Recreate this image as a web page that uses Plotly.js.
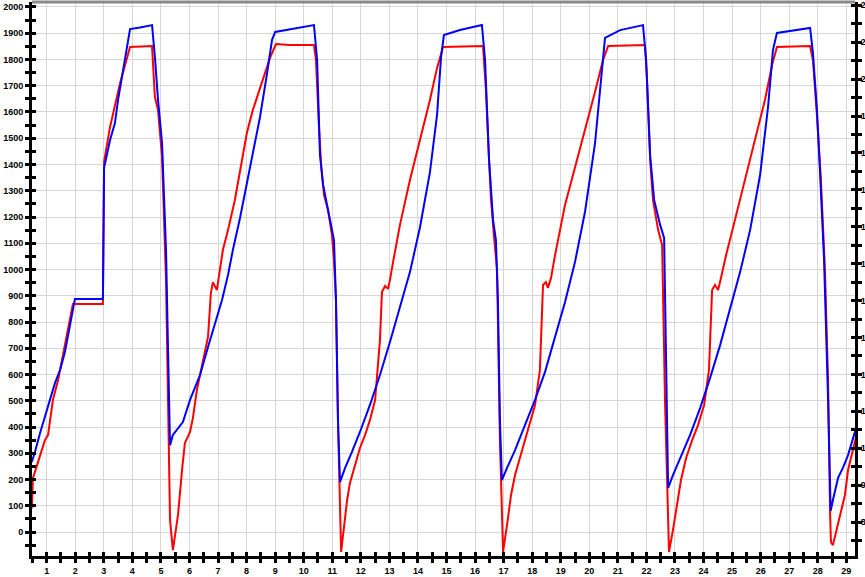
<!DOCTYPE html>
<html>
<head>
<meta charset="utf-8">
<script src="https://cdn.plot.ly/plotly-3.0.1.min.js"></script>
<style>html,body{margin:0;padding:0;background:#fff;}#chart{width:865px;height:577px;}</style>
</head>
<body>
<div id="chart"></div>
<script>
// ---- data ----
const blueX = [0.48,0.59,0.77,0.87,1.12,1.29,1.47,1.64,1.82,1.99,2.97,3.01,3.22,3.39,3.50,3.67,3.92,4.27,4.69,4.79,4.90,5.04,5.18,5.25,5.32,5.42,5.77,6.02,6.37,6.65,6.89,7.14,7.35,7.52,7.77,7.98,8.19,8.47,8.72,8.89,9.00,9.52,10.36,10.47,10.57,10.68,10.82,10.96,11.06,11.13,11.20,11.27,11.45,11.69,11.97,12.32,12.67,13.02,13.37,13.72,14.07,14.42,14.67,14.81,14.91,15.47,16.24,16.35,16.49,16.63,16.73,16.80,16.87,16.94,17.12,17.40,17.75,18.10,18.45,18.80,19.15,19.50,19.85,20.20,20.41,20.55,21.08,21.88,21.99,22.13,22.27,22.48,22.62,22.69,22.76,22.93,23.18,23.53,23.88,24.23,24.58,24.93,25.28,25.63,25.98,26.26,26.43,26.57,27.20,27.73,27.83,27.97,28.08,28.22,28.36,28.45,28.53,28.71,28.88,29.06,29.34];
const blueY = [267,305,377,415,510,567,617,686,789,888,888,1387,1493,1558,1646,1752,1916,1922,1931,1810,1646,1482,1074,693,331,370,419,503,598,705,789,884,979,1074,1196,1310,1417,1581,1749,1874,1905,1916,1931,1798,1436,1322,1246,1170,1112,884,427,190,244,305,381,484,598,724,853,990,1160,1370,1590,1810,1893,1912,1931,1798,1417,1189,1112,884,427,198,244,312,408,503,610,739,876,1029,1220,1480,1740,1882,1912,1931,1798,1436,1265,1170,1120,693,168,217,282,370,472,587,712,846,990,1150,1360,1620,1836,1901,1912,1920,1825,1608,1368,1036,503,80,122,206,244,293,396];

const redX = [0.48,0.52,0.70,0.94,1.05,1.22,1.40,1.54,1.68,1.82,1.92,2.97,3.01,3.22,3.39,3.57,3.92,4.69,4.79,4.90,5.04,5.18,5.25,5.32,5.42,5.60,5.74,5.84,6.02,6.12,6.26,6.44,6.65,6.75,6.82,6.96,7.00,7.07,7.17,7.35,7.59,7.84,8.01,8.22,8.54,8.82,9.03,9.52,10.36,10.43,10.54,10.61,10.71,10.85,10.99,11.06,11.13,11.20,11.31,11.41,11.52,11.62,11.80,11.97,12.15,12.32,12.50,12.67,12.74,12.85,12.95,13.02,13.13,13.37,13.72,14.07,14.42,14.67,14.88,16.28,16.38,16.49,16.56,16.66,16.77,16.87,16.98,17.12,17.26,17.40,17.57,17.75,17.92,18.10,18.27,18.38,18.48,18.55,18.66,18.80,19.15,19.50,19.85,20.20,20.48,20.66,21.95,22.02,22.13,22.23,22.41,22.55,22.65,22.79,22.93,23.07,23.21,23.39,23.60,23.81,24.02,24.19,24.30,24.40,24.51,24.61,24.79,25.10,25.45,25.80,26.15,26.40,26.57,27.73,27.83,27.97,28.11,28.25,28.36,28.43,28.46,28.53,28.78,28.95,29.06,29.34];
const redY = [91,205,267,350,370,503,579,655,731,808,869,869,1410,1543,1619,1710,1848,1851,1657,1608,1429,960,503,46,-69,65,236,339,381,434,541,629,743,910,952,922,949,1010,1074,1150,1265,1417,1520,1608,1710,1806,1859,1855,1855,1798,1531,1398,1284,1227,1131,1036,884,427,-76,27,122,187,255,320,370,427,503,731,914,937,926,960,1029,1170,1341,1493,1646,1768,1848,1851,1684,1417,1265,1131,998,350,-76,27,141,217,282,350,408,484,617,941,952,930,968,1055,1246,1387,1531,1676,1798,1851,1855,1722,1417,1265,1150,1093,503,-76,8,103,198,282,350,408,484,617,922,941,922,968,1055,1189,1341,1493,1646,1779,1848,1851,1798,1589,1341,998,579,72,-38,-50,57,141,236,362];

const xTicks = [1,2,3,4,5,6,7,8,9,10,11,12,13,14,15,16,17,18,19,20,21,22,23,24,25,26,27,28,29];
const leftTicks = [0,100,200,300,400,500,600,700,800,900,1000,1100,1200,1300,1400,1500,1600,1700,1800,1900,2000];
const rightTicks = [800,900,1000,1100,1200,1300,1400,1500,1600,1700,1800,1900,2000,2100,2200];

const xRange = [0.487, 29.303];
const yRange = [-91.4, 2019];
const y2Range = [708, 2209];

const tickFont = {family: 'Liberation Sans, Arial, sans-serif', size: 9, color: '#000', weight: 'bold'};

const traces = [
  {x: redX, y: redY, type: 'scatter', mode: 'lines', line: {color: '#ff0000', width: 2}, hoverinfo: 'skip'},
  {x: blueX, y: blueY, type: 'scatter', mode: 'lines', line: {color: '#0000ff', width: 2}, hoverinfo: 'skip'},
  {x: [], y: [], type: 'scatter', mode: 'lines', yaxis: 'y2'},
  {x: [], y: [], type: 'scatter', mode: 'lines', xaxis: 'x3'},
  {x: [], y: [], type: 'scatter', mode: 'lines', yaxis: 'y3'},
  {x: [], y: [], type: 'scatter', mode: 'lines', yaxis: 'y4'}
];

const tk = {ticklen: 4, tickwidth: 3, tickcolor: '#000'};

const layout = {
  width: 865, height: 577,
  margin: {l: 32, r: 10, t: 2, b: 21, pad: 0},
  paper_bgcolor: '#ffffff', plot_bgcolor: '#ffffff',
  showlegend: false,
  font: {family: 'Liberation Sans, Arial, sans-serif', size: 9, color: '#000'},
  xaxis: Object.assign({
    range: xRange, tickmode: 'array', tickvals: xTicks, ticktext: xTicks.map(String),
    showgrid: true, gridcolor: '#d6d6d6', gridwidth: 1, zeroline: false,
    showline: true, linecolor: '#000', linewidth: 3, ticks: 'outside',
    minor: {dtick: 0.5, tick0: 0, ticks: 'outside', ticklen: 4, tickwidth: 3, tickcolor: '#000', showgrid: false},
    tickfont: tickFont, fixedrange: true
  }, tk),
  xaxis3: Object.assign({
    range: xRange, overlaying: 'x', anchor: 'y', side: 'bottom', tickmode: 'array', tickvals: xTicks,
    showticklabels: false, showgrid: false, zeroline: false, showline: false, ticks: 'inside',
    minor: {dtick: 0.5, tick0: 0, ticks: 'inside', ticklen: 4, tickwidth: 3, tickcolor: '#000', showgrid: false}
  }, tk),
  yaxis: Object.assign({
    range: yRange, tickmode: 'array', tickvals: leftTicks, ticktext: leftTicks.map(String),
    showgrid: true, gridcolor: '#d6d6d6', gridwidth: 1, zeroline: false,
    showline: true, linecolor: '#000', linewidth: 3, ticks: 'outside',
    minor: {dtick: 50, tick0: 0, ticks: 'outside', ticklen: 4, tickwidth: 3, tickcolor: '#000', showgrid: false},
    tickfont: tickFont, fixedrange: true
  }, tk),
  yaxis3: Object.assign({
    range: yRange, overlaying: 'y', anchor: 'x', side: 'left', tickmode: 'array', tickvals: leftTicks,
    showticklabels: false, showgrid: false, zeroline: false, showline: false, ticks: 'inside',
    minor: {dtick: 50, tick0: 0, ticks: 'inside', ticklen: 4, tickwidth: 3, tickcolor: '#000', showgrid: false}
  }, tk),
  yaxis2: Object.assign({
    range: y2Range, overlaying: 'y', anchor: 'x', side: 'right', tickmode: 'array', tickvals: rightTicks, ticktext: rightTicks.map(String),
    showgrid: false, zeroline: false, showline: true, linecolor: '#000', linewidth: 3, ticks: 'outside',
    minor: {dtick: 50, tick0: 0, ticks: 'outside', ticklen: 4, tickwidth: 3, tickcolor: '#000', showgrid: false},
    tickfont: tickFont, automargin: false, ticklabelstandoff: -3
  }, tk),
  yaxis4: Object.assign({
    range: y2Range, overlaying: 'y', anchor: 'x', side: 'right', tickmode: 'array', tickvals: rightTicks,
    showticklabels: false, showgrid: false, zeroline: false, showline: false, ticks: 'inside',
    minor: {dtick: 50, tick0: 0, ticks: 'inside', ticklen: 4, tickwidth: 3, tickcolor: '#000', showgrid: false}
  }, tk),
  shapes: [
    {type: 'line', xref: 'paper', yref: 'paper', x0: 0, x1: 1, y0: 1, y1: 1, line: {color: '#8a8a8a', width: 3}}
  ]
};

Plotly.newPlot('chart', traces, layout, {staticPlot: true, displayModeBar: false});
</script>
</body>
</html>
